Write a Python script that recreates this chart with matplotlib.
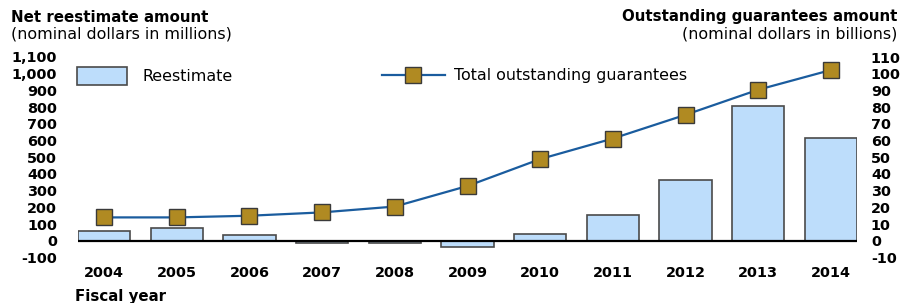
import matplotlib
matplotlib.use("Agg")
import matplotlib.pyplot as plt
from matplotlib.patches import Patch
from matplotlib.lines import Line2D
import numpy as np

# the reference text is wide, DejaVu Sans gets closer to it than Arial metrics
plt.rcParams['font.family'] = ['DejaVu Sans']

years = ['2004', '2005', '2006', '2007', '2008', '2009', '2010', '2011', '2012', '2013', '2014']
reestimate = [61, 79, 34, -12, -12, -35, 38, 155, 363, 808, 617]          # millions
outstanding = [14, 14, 15, 17, 20.5, 32.8, 48.9, 61.2, 75.4, 90.4, 102.2]  # billions

left_ticks = list(range(-100, 1101, 100))
right_ticks = list(range(-10, 111, 10))

bar_face = '#BDDDFB'
bar_edge = '#4a4a4a'
line_col = '#1A5C9E'
mark_face = '#B08A22'
mark_edge = '#3a3a3a'

FS = 11.4      # regular text
FS_T = 10.8    # bold titles
FS_K = 10.4    # bold tick labels
W, H = 905, 303
fig = plt.figure(figsize=(W / 100, H / 100), dpi=100)

def px(x0, y0, x1, y1):
    return [x0 / W, 1 - y1 / H, (x1 - x0) / W, (y1 - y0) / H]

ax = fig.add_axes(px(78, 57, 857, 257.5))
x = np.arange(len(years))
ax.bar(x, reestimate, width=0.72, color=bar_face, edgecolor=bar_edge, linewidth=1.2, zorder=2)
ax.axhline(0, color='black', linewidth=1.6, zorder=3)
ax.set_xlim(-0.36, len(years) - 0.64)
ax.set_ylim(-100, 1100)
ax.set_yticks(left_ticks)
ax.set_yticklabels([f'{v:,}' for v in left_ticks], fontsize=FS_K, fontweight='bold')
ax.set_xticks(x)
ax.set_xticklabels(years, fontsize=FS_K, fontweight='bold')
ax.tick_params(axis='y', length=0, pad=15)
ax.tick_params(axis='x', length=0, pad=6)

ax2 = ax.twinx()
ax2.plot(x, outstanding, color=line_col, linewidth=1.6, marker='s', markersize=11.5,
         markerfacecolor=mark_face, markeredgecolor=mark_edge, markeredgewidth=1.0, zorder=4)
ax2.set_ylim(-10, 110)
ax2.set_yticks(right_ticks)
ax2.set_yticklabels([str(v) for v in right_ticks], fontsize=FS_K, fontweight='bold')
ax2.tick_params(axis='y', length=0, pad=10)

for a in (ax, ax2):
    for s in a.spines.values():
        s.set_visible(False)

h1 = Patch(facecolor=bar_face, edgecolor=bar_edge, linewidth=1.2)
fig.legend(handles=[h1], labels=['Reestimate'], loc='center left',
           bbox_to_anchor=(77 / W, 1 - 76 / H), frameon=False, borderpad=0, borderaxespad=0,
           handlelength=3.15, handleheight=1.3, handletextpad=1.0, fontsize=FS)
h2 = Line2D([], [], color=line_col, linewidth=1.6, marker='s', markersize=11,
            markerfacecolor=mark_face, markeredgecolor=mark_edge)
fig.legend(handles=[h2], labels=['Total outstanding guarantees'], loc='center left',
           bbox_to_anchor=(382 / W, 1 - 76 / H), frameon=False, borderpad=0, borderaxespad=0,
           handlelength=3.95, handletextpad=0.6, fontsize=FS)

fig.text(11 / W, 1 - 17 / H, 'Net reestimate amount', fontsize=FS_T, fontweight='bold', va='center')
fig.text(11 / W, 1 - 34 / H, '(nominal dollars in millions)', fontsize=FS, va='center')
fig.text(897 / W, 1 - 17 / H, 'Outstanding guarantees amount', fontsize=FS_T, fontweight='bold',
         va='center', ha='right')
fig.text(897 / W, 1 - 34 / H, '(nominal dollars in billions)', fontsize=FS, va='center', ha='right')
fig.text(75 / W, 1 - 297 / H, 'Fiscal year', fontsize=FS_T, fontweight='bold', va='center')

fig.savefig('out.png', dpi=100)
